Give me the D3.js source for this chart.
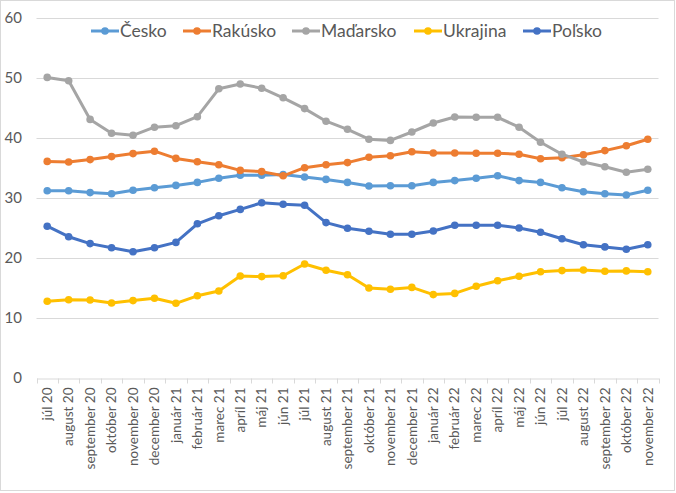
<!DOCTYPE html>
<html><head><meta charset="utf-8">
<script src="https://cdn.jsdelivr.net/npm/d3@7"></script>
<style>body{margin:0;background:#fff;} svg{display:block;} text{font-family:Lato,"Open Sans",sans-serif;}</style>
</head><body><svg id="c" width="676" height="493"></svg>
<script>
const months = ["júl 20","august 20","september 20","október 20","november 20","december 20","január 21","február 21","marec 21","apríl 21","máj 21","jún 21","júl 21","august 21","september 21","október 21","november 21","december 21","január 22","február 22","marec 22","apríl 22","máj 22","jún 22","júl 22","august 22","september 22","október 22","november 22"];
const cesko = [31.2,31.2,30.9,30.7,31.3,31.7,32.1,32.6,33.3,33.8,33.8,33.9,33.5,33.1,32.6,32.0,32.05,32.05,32.6,32.9,33.3,33.7,32.9,32.6,31.7,31.05,30.7,30.5,31.3];
const rakusko = [36.1,36.0,36.4,36.9,37.4,37.8,36.6,36.05,35.55,34.6,34.4,33.7,35.05,35.55,35.9,36.8,37.05,37.7,37.5,37.5,37.45,37.45,37.3,36.55,36.7,37.2,37.9,38.7,39.8];
const madarsko = [50.1,49.55,43.1,40.8,40.45,41.8,42.05,43.55,48.2,49.0,48.3,46.7,44.9,42.8,41.45,39.8,39.6,41.0,42.5,43.5,43.45,43.45,41.8,39.3,37.3,36.0,35.2,34.3,34.8];
const ukrajina = [12.8,13.05,13.0,12.5,12.9,13.3,12.45,13.7,14.5,17.0,16.9,17.05,19.0,17.95,17.2,15.0,14.8,15.1,13.9,14.1,15.3,16.2,16.95,17.7,17.9,18.0,17.8,17.85,17.7];
const polsko = [25.3,23.55,22.4,21.7,21.05,21.7,22.6,25.7,27.05,28.1,29.2,28.95,28.8,25.9,24.95,24.45,23.95,23.95,24.5,25.45,25.45,25.45,25.0,24.3,23.2,22.2,21.85,21.45,22.2];
const seriesNames = ["Česko","Rakúsko","Maďarsko","Ukrajina","Poľsko"];
const seriesColors = ["#5B9BD5","#ED7D31","#A5A5A5","#FFC000","#4472C4"];
const yTicks = [0,10,20,30,40,50,60];

const series = [cesko,rakusko,madarsko,ukrajina,polsko].map((v,i)=>({name:seriesNames[i],color:seriesColors[i],values:v}));
const svg = d3.select("#c");
svg.append("rect").attr("x",0.5).attr("y",0.5).attr("width",674).attr("height",490).attr("fill","#fff").attr("stroke","#d9d9d9");

const x = d3.scaleBand().domain(months).range([36.5,658.5]);
const y = d3.scaleLinear().domain([0,60]).range([378,18]);

// gridlines
svg.append("g").selectAll("line").data(yTicks.filter(d=>d>0)).join("line")
  .attr("x1",36.5).attr("x2",658.5).attr("y1",d=>Math.round(y(d))+0.5).attr("y2",d=>Math.round(y(d))+0.5)
  .attr("stroke","#d9d9d9").attr("stroke-width",1);

// y axis labels
const yAxis = d3.axisLeft(y).tickValues(yTicks).tickSize(0).tickPadding(0);
const gy = svg.append("g").attr("transform","translate(22,0)").call(yAxis);
gy.select(".domain").remove();
gy.selectAll("text").attr("font-size",15).attr("fill","#595959").attr("font-family","Lato,'Open Sans',sans-serif");

// x axis
const xAxis = d3.axisBottom(x).tickSize(0).tickPadding(0);
const gx = svg.append("g").attr("transform","translate(0,378.5)").call(xAxis);
gx.select(".domain").attr("stroke","#d9d9d9");
gx.selectAll("text").attr("font-size",13.5).attr("fill","#595959").attr("font-family","Lato,'Open Sans',sans-serif")
  .attr("transform","rotate(-90)").attr("text-anchor","end").attr("x",-9).attr("y",0).attr("dy","0.35em");
// tick marks at band edges
const edges = months.map(m=>x(m)).concat([x.range()[1]]);
svg.append("g").selectAll("line").data(edges).join("line")
  .attr("x1",d=>Math.round(d)+0.5).attr("x2",d=>Math.round(d)+0.5).attr("y1",378.5).attr("y2",383.5)
  .attr("stroke","#d9d9d9");

const line = d3.line().x((d,i)=>x(months[i])+x.bandwidth()/2).y(d=>y(d));
const gs = svg.append("g").selectAll("g").data(series).join("g");
gs.append("path").attr("d",d=>line(d.values)).attr("fill","none").attr("stroke",d=>d.color).attr("stroke-width",3).attr("stroke-linejoin","round").attr("stroke-linecap","round");
gs.each(function(s){
  d3.select(this).selectAll("circle").data(s.values).join("circle")
    .attr("cx",(d,i)=>x(months[i])+x.bandwidth()/2).attr("cy",d=>y(d)).attr("r",3.8).attr("fill",s.color);
});

// legend
const legendX = [91,183,292,414,523];
const lg = svg.append("g").selectAll("g").data(series).join("g").attr("transform",(d,i)=>`translate(${legendX[i]},31)`);
lg.append("line").attr("x1",0).attr("x2",28).attr("stroke",d=>d.color).attr("stroke-width",3);
lg.append("circle").attr("cx",14).attr("r",3.8).attr("fill",d=>d.color);
lg.append("text").attr("x",29).attr("dy","0.35em").attr("font-size",17.5).attr("fill","#595959").text(d=>d.name);
</script></body></html>
